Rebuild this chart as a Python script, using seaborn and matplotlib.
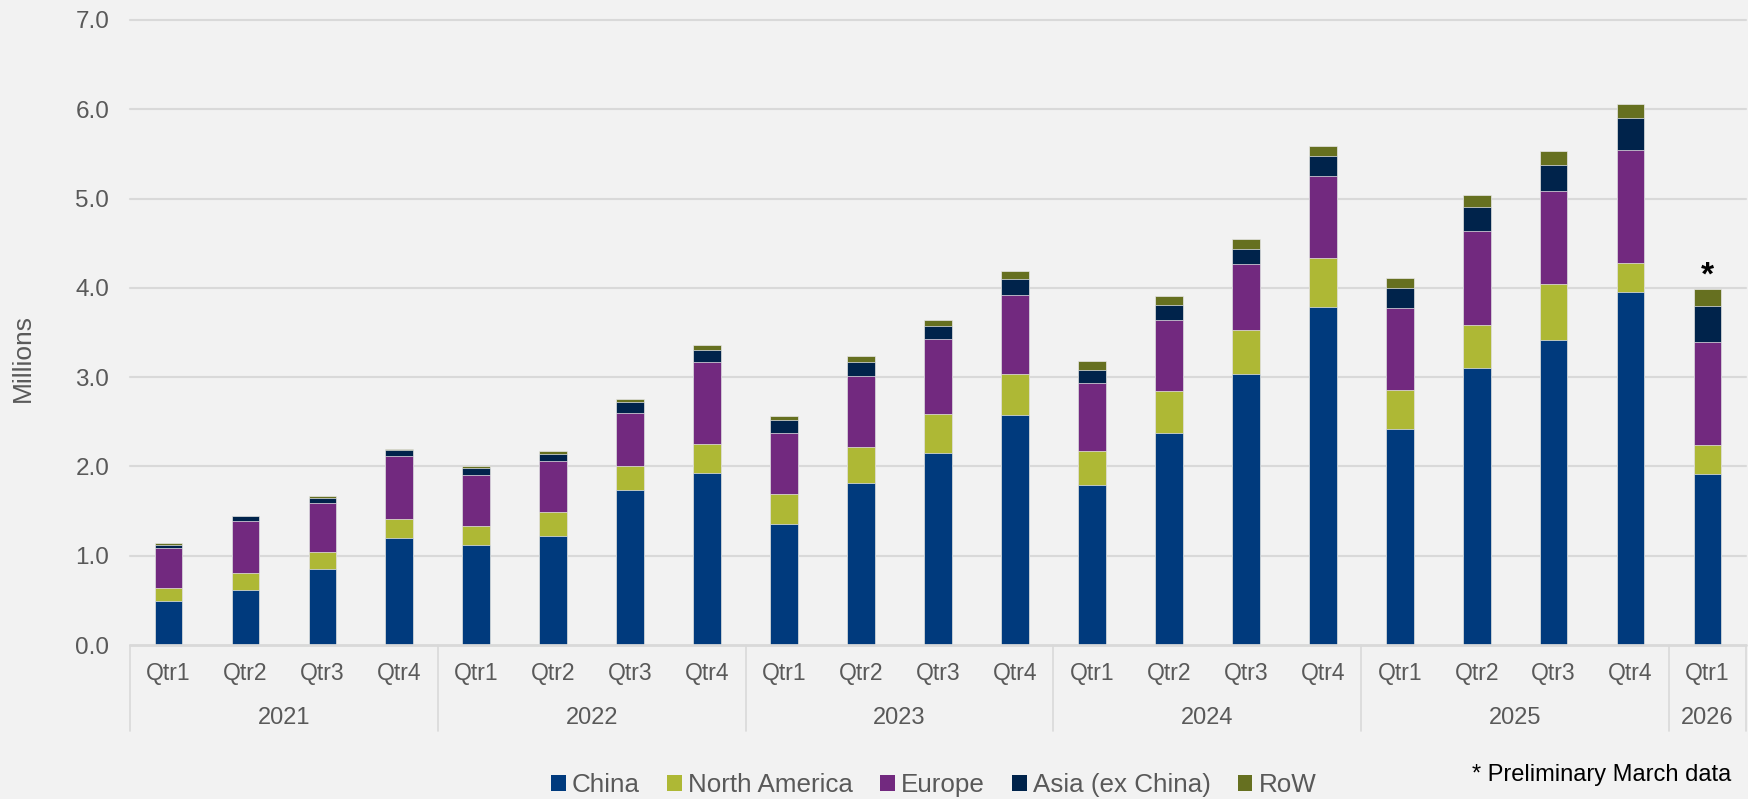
import matplotlib
matplotlib.use("Agg")
import matplotlib.pyplot as plt
import matplotlib.transforms as mtransforms
from matplotlib.patches import Patch
import numpy as np
import pandas as pd
import seaborn as sns

years = ["2021"] * 4 + ["2022"] * 4 + ["2023"] * 4 + ["2024"] * 4 + ["2025"] * 4 + ["2026"]
quarters = ["Qtr1", "Qtr2", "Qtr3", "Qtr4"] * 5 + ["Qtr1"]

china = [0.49, 0.615, 0.85, 1.20, 1.12, 1.22, 1.735, 1.925, 1.35, 1.81, 2.15, 2.575,
         1.795, 2.37, 3.035, 3.785, 2.415, 3.10, 3.42, 3.95, 1.91]
north_america = [0.145, 0.19, 0.195, 0.21, 0.215, 0.27, 0.275, 0.325, 0.34, 0.41, 0.44, 0.465,
                 0.38, 0.48, 0.49, 0.555, 0.44, 0.48, 0.625, 0.325, 0.325]
europe = [0.45, 0.585, 0.545, 0.705, 0.57, 0.57, 0.59, 0.925, 0.685, 0.79, 0.835, 0.88,
          0.76, 0.795, 0.74, 0.91, 0.92, 1.06, 1.04, 1.265, 1.16]
asia_ex_china = [0.04, 0.05, 0.055, 0.065, 0.075, 0.08, 0.125, 0.125, 0.14, 0.165, 0.15, 0.18,
                 0.15, 0.165, 0.175, 0.225, 0.22, 0.27, 0.295, 0.36, 0.40]
row = [0.02, 0.01, 0.025, 0.015, 0.025, 0.03, 0.035, 0.055, 0.055, 0.065, 0.07, 0.09,
       0.10, 0.10, 0.105, 0.11, 0.11, 0.125, 0.155, 0.155, 0.19]

series_names = ["China", "North America", "Europe", "Asia (ex China)", "RoW"]
series_colors = ["#003A7D", "#AEB835", "#72297F", "#00234B", "#667020"]

BG = "#F2F2F2"
GRID = "#D9D9D9"
TEXT = "#595959"

sns.set_theme(style="white")
plt.rcParams["font.family"] = ["Liberation Sans", "DejaVu Sans"]

periods = [f"{y} {q}" for y, q in zip(years, quarters)]
df = pd.DataFrame({"period": periods, "China": china, "North America": north_america,
                   "Europe": europe, "Asia (ex China)": asia_ex_china, "RoW": row})
stacked = df[series_names].cumsum(axis=1)

fig, ax = plt.subplots(figsize=(17.48, 7.99), dpi=100)
fig.patch.set_facecolor(BG)
ax.set_facecolor(BG)
fig.subplots_adjust(left=130 / 1748, right=1746 / 1748, top=1 - 20 / 799, bottom=1 - 645 / 799)

# draw cumulative totals from the top down so each layer covers the one above it
for name, color in reversed(list(zip(series_names, series_colors))):
    sns.barplot(x=df["period"], y=stacked[name], order=periods, color=color, saturation=1,
                width=0.36, errorbar=None, edgecolor="#E8E8E8", linewidth=0.5, ax=ax, zorder=3)

ax.set_ylim(0, 7)
ax.set_xlim(-0.5, len(periods) - 0.5)
ax.set_yticks(np.arange(0, 8, 1))
ax.set_yticklabels([f"{v:.1f}" for v in np.arange(0, 8, 1)])
for v in np.arange(1, 8, 1):
    ax.axhline(v, color=GRID, lw=1.5, zorder=1, clip_on=False)
ax.axhline(0, color=GRID, lw=2, zorder=4, clip_on=False)
sns.despine(ax=ax, left=True, bottom=True, top=True, right=True)
ax.tick_params(axis="y", length=0, pad=15, labelsize=17.5, labelcolor=TEXT)
ax.tick_params(axis="x", length=0, labelbottom=False)
ax.set_xlabel("")
ax.set_ylabel("Millions", fontsize=19, color=TEXT)
ax.yaxis.set_label_coords(-0.059, 0.46)

# two-level category axis
trans = mtransforms.blended_transform_factory(ax.transData, ax.transAxes)
for i, q in enumerate(quarters):
    ax.text(i, -0.045, q, transform=trans, ha="center", va="center", fontsize=16.5, color=TEXT)

bounds = [-0.5]
for i in range(1, len(years)):
    if years[i] != years[i - 1]:
        bounds.append(i - 0.5)
bounds.append(len(years) - 0.5)
for b in bounds:
    ax.plot([b, b], [0, -0.138], transform=trans, color=GRID, lw=1.2, clip_on=False)
for lo, hi in zip(bounds[:-1], bounds[1:]):
    yr = years[int(lo + 0.5)]
    ax.text((lo + hi) / 2, -0.116, yr, transform=trans, ha="center", va="center",
            fontsize=17, color=TEXT)

# preliminary marker on the last bar
last_total = stacked["RoW"].iloc[-1]
ax.annotate("*", xy=(len(periods) - 1, last_total), xytext=(0, 3), textcoords="offset points",
            ha="center", va="baseline", fontsize=24, fontweight="bold", color="black")

handles = [Patch(facecolor=c, edgecolor="none", label=n) for n, c in zip(series_names, series_colors)]
fig.legend(handles=handles, loc="center", bbox_to_anchor=(934 / 1748, 1 - 785 / 799), ncol=5,
           frameon=False, fontsize=18.7, handlelength=0.55, handleheight=0.55,
           handletextpad=0.25, columnspacing=1.05, labelcolor=TEXT)

fig.text(1731 / 1748, 1 - 775 / 799, "* Preliminary March data", ha="right", va="center",
         fontsize=17, color="black")

fig.savefig("out.png", dpi=100, facecolor=BG)
plt.close(fig)
